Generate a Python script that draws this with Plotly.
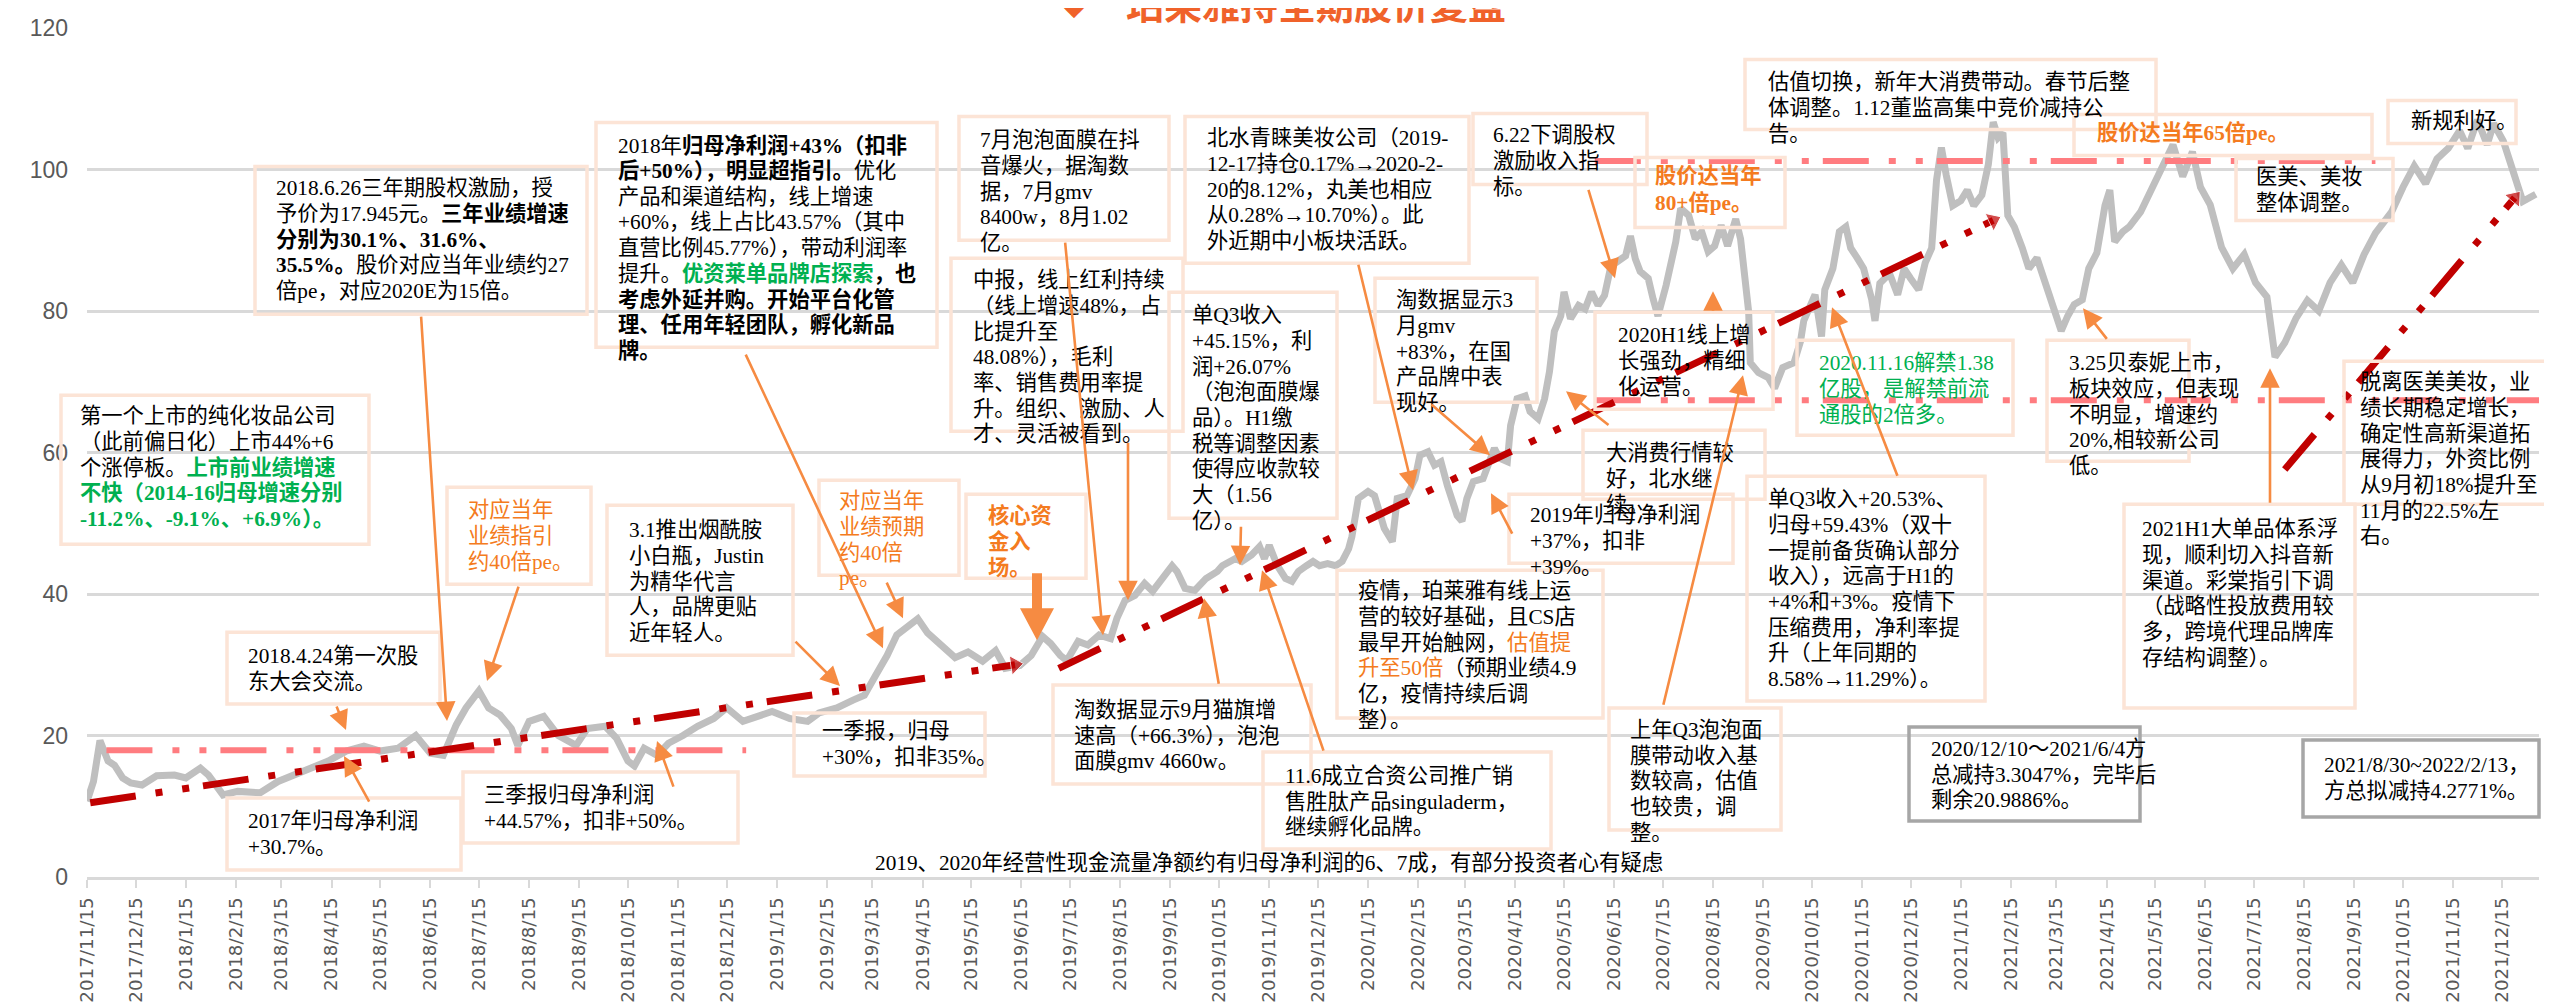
import plotly.graph_objects as go

# ---------------- data ----------------
price_dates = [
 "2017-11-15","2017-11-19","2017-11-23","2017-11-28","2017-12-02","2017-12-07","2017-12-12","2017-12-19","2017-12-28",
 "2018-01-08","2018-01-15","2018-01-24","2018-01-29","2018-02-07","2018-02-16","2018-03-02","2018-03-13","2018-03-30",
 "2018-04-13","2018-04-24","2018-05-05","2018-05-15","2018-05-26","2018-06-06","2018-06-15","2018-06-23","2018-07-01",
 "2018-07-07","2018-07-15","2018-07-21","2018-07-28","2018-08-04","2018-08-08","2018-08-15","2018-08-24","2018-09-02",
 "2018-09-13","2018-09-20","2018-10-01","2018-10-08","2018-10-15","2018-10-19","2018-10-25","2018-11-02","2018-11-09",
 "2018-11-18","2018-11-27","2018-12-07","2018-12-15","2018-12-25","2019-01-05","2019-01-12","2019-01-23","2019-02-03",
 "2019-02-10","2019-02-21","2019-03-03","2019-03-10","2019-03-17","2019-03-24","2019-03-30","2019-04-07","2019-04-12",
 "2019-04-18","2019-04-26","2019-05-05","2019-05-13","2019-05-22","2019-05-30","2019-06-05","2019-06-14","2019-06-21",
 "2019-06-28","2019-07-03","2019-07-09","2019-07-13","2019-07-20","2019-07-26","2019-08-02","2019-08-09","2019-08-13",
 "2019-08-18","2019-08-24","2019-08-30","2019-09-04","2019-09-11","2019-09-16","2019-09-19","2019-09-24","2019-09-30",
 "2019-10-07","2019-10-14","2019-10-17","2019-10-25","2019-10-29","2019-11-04","2019-11-09","2019-11-12","2019-11-15",
 "2019-11-20","2019-11-25","2019-11-29","2019-12-03","2019-12-08","2019-12-12","2019-12-16","2019-12-21","2019-12-26",
 "2019-12-30","2020-01-03","2020-01-05","2020-01-09","2020-01-15","2020-01-19","2020-01-25","2020-01-30","2020-02-02",
 "2020-02-08","2020-02-13","2020-02-16","2020-02-21","2020-02-25","2020-02-29","2020-03-04","2020-03-10","2020-03-13",
 "2020-03-16","2020-03-20","2020-03-26","2020-04-02","2020-04-05","2020-04-10","2020-04-12","2020-04-16","2020-04-21",
 "2020-04-24","2020-04-29","2020-05-03","2020-05-06","2020-05-09","2020-05-13","2020-05-15","2020-05-19","2020-05-24",
 "2020-05-28","2020-06-01","2020-06-05","2020-06-09","2020-06-13","2020-06-17","2020-06-22","2020-06-25","2020-06-28",
 "2020-07-01","2020-07-06","2020-07-09","2020-07-12","2020-07-17","2020-07-20","2020-07-23","2020-07-26","2020-07-31",
 "2020-08-04","2020-08-08","2020-08-12","2020-08-16","2020-08-20","2020-08-24","2020-08-29","2020-09-01","2020-09-06",
 "2020-09-07","2020-09-12","2020-09-18","2020-09-22","2020-09-27","2020-10-04","2020-10-08","2020-10-10","2020-10-17",
 "2020-10-21","2020-10-23","2020-10-28","2020-11-01","2020-11-05","2020-11-08","2020-11-12","2020-11-16","2020-11-21",
 "2020-11-23","2020-11-26","2020-12-02","2020-12-07","2020-12-11","2020-12-15","2020-12-20","2020-12-24","2020-12-28",
 "2020-12-31","2021-01-03","2021-01-06","2021-01-10","2021-01-15","2021-01-19","2021-01-23","2021-01-28","2021-02-01",
 "2021-02-04","2021-02-07","2021-02-10","2021-02-13","2021-02-17","2021-02-22","2021-02-26","2021-03-03","2021-03-07",
 "2021-03-11","2021-03-15","2021-03-18","2021-03-22","2021-03-26","2021-03-31","2021-04-04","2021-04-09","2021-04-14",
 "2021-04-17","2021-04-20","2021-04-25","2021-04-29","2021-05-06","2021-05-13","2021-05-20","2021-05-26","2021-06-01",
 "2021-06-07","2021-06-12","2021-06-18","2021-06-25","2021-07-02","2021-07-09","2021-07-16","2021-07-23","2021-07-28",
 "2021-08-03","2021-08-10","2021-08-17","2021-08-24","2021-08-31","2021-09-07","2021-09-14","2021-09-21","2021-09-28",
 "2021-10-08","2021-10-15","2021-10-22","2021-10-29","2021-11-05","2021-11-12","2021-11-19","2021-11-24","2021-11-30",
 "2021-12-06","2021-12-10","2021-12-16","2021-12-22","2021-12-28","2022-01-05"]
price_vals = [
 10.7,13.5,19.3,16.4,15.8,14.0,13.3,13.0,14.3,
 14.4,14.0,15.4,14.4,11.6,12.1,11.9,13.5,15.1,
 16.4,17.8,18.5,17.8,18.2,20.0,17.5,17.2,21.5,
 23.9,26.3,23.9,22.9,21.0,18.6,22.0,22.7,20.0,
 18.6,21.0,21.3,19.6,16.4,15.7,18.2,17.2,18.9,
 20.0,21.3,22.4,23.9,22.0,22.9,23.4,22.4,22.0,
 23.2,23.9,25.0,25.7,28.5,31.3,34.2,35.8,36.5,
 34.5,32.8,31.0,31.8,30.5,32.0,29.5,29.9,31.3,
 34.0,33.0,31.3,30.6,33.3,32.8,34.2,33.7,36.6,
 39.1,39.8,41.5,40.4,42.6,44.0,43.2,40.8,40.5,
 42.2,43.2,44.0,45.0,44.6,45.5,46.7,45.0,46.9,
 44.0,42.2,41.8,43.2,44.0,44.6,44.0,44.3,44.0,
 44.6,46.4,48.1,53.5,54.5,53.9,49.3,47.4,53.5,
 53.9,56.3,59.6,60.1,58.2,58.7,55.3,51.1,50.3,
 53.5,55.9,56.3,60.6,59.2,58.7,63.8,67.6,68.0,
 65.8,64.8,67.6,71.4,77.1,79.3,82.7,78.9,80.8,
 80.3,82.7,80.8,82.2,86.4,87.0,87.8,90.6,87.4,
 85.6,84.6,81.7,79.3,83.6,87.0,89.8,94.5,93.5,
 90.2,91.2,88.4,89.2,92.1,89.2,93.0,90.2,79.9,
 72.7,71.3,70.6,69.1,72.0,72.7,75.7,78.6,82.3,
 76.4,83.0,86.0,91.2,91.9,88.9,87.5,86.0,81.6,
 78.6,83.9,85.3,82.3,86.0,84.6,83.0,86.8,88.9,
 98.5,103.1,99.2,94.9,95.6,97.1,94.9,96.4,100.7,
 106.7,104.5,105.2,93.5,91.9,88.9,86.0,87.5,84.6,
 81.6,78.6,77.2,79.3,80.9,81.6,86.0,88.2,94.9,
 97.1,89.8,91.2,91.9,94.0,97.5,101.0,103.5,99.0,
 102.5,97.5,95.0,89.0,86.0,88.0,84.0,82.0,73.5,
 75.5,79.0,81.5,80.0,84.0,86.5,84.0,88.0,91.0,
 94.0,97.5,100.5,98.0,101.5,103.0,105.5,103.0,107.0,
 103.5,106.5,104.0,100.0,95.5,96.5]

trendA_dates = ["2017-11-17", "2019-06-11"]
trendA_vals = [10.5, 30.0]
trendB_dates = ["2019-07-08", "2021-02-04"]
trendB_vals = [29.5, 92.8]
trendC_dates = ["2021-08-03", "2021-12-23"]
trendC_vals = [57.6, 96.0]

pink1_dates = ["2017-11-27", "2018-12-27"]
pink1_vals = [17.9, 17.9]
pink2_dates = ["2020-06-03", "2021-09-28"]
pink2_vals = [101.2, 101.2]
pink3_dates = ["2020-06-03", "2022-01-07"]
pink3_vals = [67.4, 67.4]

tick_dates = []
tick_text = []
for y in range(2017, 2022):
    for m in range(1, 13):
        if (y == 2017 and m < 11):
            continue
        tick_dates.append(f"{y}-{m:02d}-15")
        tick_text.append(f"{y}/{m}/15")

title_text = "珀莱雅持全期股价复盘"
bottom_note = "2019、2020年经营性现金流量净额约有归母净利润的6、7成，有部分投资者心有疑虑"

# ---------------- layout geometry (pixels) ----------------
W, H = 2552, 1003
L, R, T, B = 79, 21, 19.5, 134
PW = W - L - R
PH = H - T - B


def px(x):
    return (x - L) / PW


def py(y):
    return (H - B - y) / PH


FONT = "Liberation Serif, Noto Sans CJK SC, serif"
FS = 21.3
STEP = 25.7
ORANGE_T = "#F47B20"
GREEN = "#00B050"
ARROW = "#F68B42"
BOXC = "#FCE4D6"


def g(s):
    return f"<span style='color:{GREEN}'><b>{s}</b></span>"


def o(s, bold=False):
    return f"<span style='color:{ORANGE_T}'>{'<b>' if bold else ''}{s}{'</b>' if bold else ''}</span>"


boxes = [
    # (left, top, right, bottom), text_x, first_line_y, lines, border
    ((53, 387, 361, 536), 70, 408, [
        "第一个上市的纯化妆品公司",
        "（此前偏日化）上市44%+6",
        "个涨停板。" + g("上市前业绩增速"),
        g("不快（2014-16归母增速分别"),
        g("-11.2%、-9.1%、+6.9%）。")], BOXC),
    ((247, 158, 579, 306), 266, 180, [
        "2018.6.26三年期股权激励，授",
        "予价为17.945元。<b>三年业绩增速</b>",
        "<b>分别为30.1%、31.6%、</b>",
        "<b>35.5%。</b>股价对应当年业绩约27",
        "倍pe，对应2020E为15倍。"], BOXC),
    ((588, 114, 929, 339), 608, 137, [
        "2018年<b>归母净利润+43%（扣非</b>",
        "<b>后+50%），明显超指引。</b>优化",
        "产品和渠道结构，线上增速",
        "+60%，线上占比43.57%（其中",
        "直营比例45.77%），带动利润率",
        "提升。" + g("优资莱单品牌店探索") + "<b>，也</b>",
        "<b>考虑外延并购。开始平台化管</b>",
        "<b>理、任用年轻团队，孵化新品</b>",
        "<b>牌。</b>"], BOXC),
    ((219, 624, 432, 696), 238, 648, ["2018.4.24第一次股", "东大会交流。"], BOXC),
    ((439, 479, 583, 576), 458, 502, [o("对应当年"), o("业绩指引"), o("约40倍pe。")], BOXC),
    ((219, 790, 453, 862), 238, 813, ["2017年归母净利润", "+30.7%。"], BOXC),
    ((455, 764, 730, 835), 474, 787, ["三季报归母净利润", "+44.57%，扣非+50%。"], BOXC),
    ((599, 497, 785, 647), 619, 522, ["3.1推出烟酰胺", "小白瓶，Justin", "为精华代言", "人，品牌更贴", "近年轻人。"], BOXC),
    ((811, 472, 951, 567), 829, 493, [o("对应当年"), o("业绩预期"), o("约40倍"), o("pe。")], BOXC),
    ((786, 705, 977, 768), 812, 723, ["一季报，归母", "+30%，扣非35%。"], BOXC),
    ((958, 486, 1078, 570), 978, 508, [o("核心资", True), o("金入", True), o("场。", True)], BOXC),
    ((951, 108, 1161, 232), 970, 132, ["7月泡泡面膜在抖", "音爆火，据淘数", "据，7月gmv", "8400w，8月1.02", "亿。"], BOXC),
    ((943, 250, 1175, 423), 963, 272, ["中报，线上红利持续", "（线上增速48%，占", "比提升至", "48.08%），毛利",
                                        "率、销售费用率提", "升。组织、激励、人", "才、灵活被看到。"], BOXC),
    ((1177, 108, 1461, 255), 1197, 130, ["北水青睐美妆公司（2019-", "12-17持仓0.17%→2020-2-", "20的8.12%，丸美也相应",
                                          "从0.28%→10.70%）。此", "外近期中小板块活跃。"], BOXC),
    ((1161, 284, 1329, 510), 1182, 307, ["单Q3收入", "+45.15%，利", "润+26.07%", "（泡泡面膜爆", "品）。H1缴",
                                          "税等调整因素", "使得应收款较", "大（1.56", "亿）。"], BOXC),
    ((1465, 105, 1639, 176), 1483, 127, ["6.22下调股权", "激励收入指", "标。"], BOXC),
    ((1627, 149, 1777, 219), 1645, 168, [o("股价达当年", True), o("80+倍pe。", True)], BOXC),
    ((1367, 270, 1529, 394), 1386, 292, ["淘数据显示3", "月gmv", "+83%，在国", "产品牌中表", "现好。"], BOXC),
    ((1329, 562, 1595, 710), 1348, 583, ["疫情，珀莱雅有线上运", "营的较好基础，且CS店", "最早开始触网，" + o("估值提"),
                                          o("升至50倍") + "（预期业绩4.9", "亿，疫情持续后调", "整）。"], BOXC),
    ((1045, 677, 1303, 776), 1064, 702, ["淘数据显示9月猫旗增", "速高（+66.3%），泡泡", "面膜gmv 4660w。"], BOXC),
    ((1255, 744, 1543, 841), 1275, 768, ["11.6成立合资公司推广销", "售胜肽产品singuladerm，", "继续孵化品牌。"], BOXC),
    ((1501, 486, 1725, 555), 1520, 507, ["2019年归母净利润", "+37%，扣非", "+39%。"], BOXC),
    ((1575, 422, 1757, 491), 1596, 445, ["大消费行情较", "好，北水继", "续。"], BOXC),
    ((1587, 304, 1765, 401), 1608, 327, ["2020H1线上增", "长强劲，精细", "化运营。"], BOXC),
    ((1789, 332, 2005, 427), 1809, 355, [f"<span style='color:{GREEN}'>2020.11.16解禁1.38</span>",
                                          f"<span style='color:{GREEN}'>亿股，是解禁前流</span>",
                                          f"<span style='color:{GREEN}'>通股的2倍多。</span>"], BOXC),
    ((1739, 468, 1977, 693), 1758, 491, ["单Q3收入+20.53%、", "归母+59.43%（双十", "一提前备货确认部分", "收入），远高于H1的",
                                          "+4%和+3%。疫情下", "压缩费用，净利率提", "升（上年同期的", "8.58%→11.29%）。"], BOXC),
    ((1601, 700, 1773, 822), 1620, 722, ["上年Q3泡泡面", "膜带动收入基", "数较高，估值", "也较贵，调", "整。"], BOXC),
    ((1737, 51, 2148, 121), 1758, 74, ["估值切换，新年大消费带动。春节后整", "体调整。1.12董监高集中竞价减持公", "告。"], BOXC),
    ((2066, 106, 2364, 147), 2087, 124, [o("股价达当年65倍pe。", True)], BOXC),
    ((2380, 92, 2508, 135), 2401, 113, ["新规利好。"], BOXC),
    ((2228, 150, 2385, 212), 2246, 169, ["医美、美妆", "整体调整。"], BOXC),
    ((2039, 332, 2181, 453), 2059, 355, ["3.25贝泰妮上市，", "板块效应，但表现", "不明显，增速约", "20%,相较新公司", "低。"], BOXC),
    ((2116, 496, 2347, 700), 2132, 521, ["2021H1大单品体系浮", "现，顺利切入抖音新", "渠道。彩棠指引下调", "（战略性投放费用较",
                                          "多，跨境代理品牌库", "存结构调整）。"], BOXC),
    ((2336, 353, 2539, 496), 2350, 374, ["脱离医美美妆，业", "绩长期稳定增长，", "确定性高新渠道拓", "展得力，外资比例",
                                          "从9月初18%提升至", "11月的22.5%左", "右。"], BOXC),
    ((1901, 719, 2132, 813), 1921, 741, ["2020/12/10～2021/6/4方", "总减持3.3047%，完毕后", "剩余20.9886%。"], "#A6A6A6"),
    ((2295, 732, 2531, 809), 2314, 757, ["2021/8/30~2022/2/13，", "方总拟减持4.2771%。"], "#A6A6A6"),
]

# arrows: (tail_x, tail_y, head_x, head_y) in pixels
arrows = [
    (413, 307, 439, 713), (737, 345, 875, 640), (328, 697, 338, 722), (511, 577, 479, 673),
    (362, 795, 336, 748), (666, 780, 649, 733), (786, 632, 832, 678), (878, 573, 895, 610),
    (1057, 233, 1095, 627), (1120, 433, 1120, 592), (1350, 255, 1405, 482), (1233, 517, 1232, 557),
    (1580, 180, 1607, 270), (1422, 395, 1482, 447), (1211, 677, 1196, 590), (1316, 744, 1254, 562),
    (1505, 527, 1483, 485), (1602, 418, 1558, 383), (1705, 304, 1705, 283), (1890, 469, 1824, 299),
    (1655, 698, 1735, 367), (2262, 496, 2262, 360), (2100, 332, 2075, 300),
]

# ---------------- figure ----------------
fig = go.Figure()
fig.add_trace(go.Scatter(x=price_dates, y=price_vals, mode="lines",
                         line=dict(color="#BFBFBF", width=7), hoverinfo="skip"))

DASH = "46px,20px,7px,20px,7px,14px"
for d, v in [(pink1_dates, pink1_vals), (pink2_dates, pink2_vals), (pink3_dates, pink3_vals)]:
    fig.add_trace(go.Scatter(x=d, y=v, mode="lines", line=dict(color="#FF7C80", width=6, dash=DASH), hoverinfo="skip"))

for d, v in [(trendA_dates, trendA_vals), (trendB_dates, trendB_vals), (trendC_dates, trendC_vals)]:
    fig.add_trace(go.Scatter(x=d, y=v, mode="lines+markers",
                             line=dict(color="#C00000", width=7, dash=DASH),
                             marker=dict(size=[0, 17], symbol="triangle-up", angleref="previous", color="#C00000"),
                             hoverinfo="skip"))

shapes = []
annotations = []
for (l, t, r, b), tx, y0, lines, bc in boxes:
    shapes.append(dict(type="rect", xref="paper", yref="paper", x0=px(l), x1=px(r), y0=py(b), y1=py(t),
                       line=dict(color=bc, width=3.5), fillcolor="rgba(0,0,0,0)", layer="above"))
    for i, s in enumerate(lines):
        annotations.append(dict(xref="paper", yref="paper", x=px(tx), y=py(y0 + i * STEP), xanchor="left",
                                yanchor="middle", text=s, showarrow=False, align="left",
                                font=dict(family=FONT, size=FS, color="#000000")))

for tx0, ty0, hx, hy in arrows:
    annotations.append(dict(xref="paper", yref="paper", x=px(hx), y=py(hy), ax=tx0 - hx, ay=ty0 - hy,
                            axref="pixel", ayref="pixel", text="", showarrow=True, arrowhead=2,
                            arrowsize=1.5, arrowwidth=2.6, arrowcolor=ARROW, standoff=0, startstandoff=0))

# block arrow for 核心资金入场
bx, btop, bhead, bhw, btip = 1029, 565, 600, 17, 632
pth = (f"M {px(bx-5)},{py(btop)} L {px(bx+5)},{py(btop)} L {px(bx+5)},{py(bhead)} L {px(bx+bhw)},{py(bhead)} "
       f"L {px(bx)},{py(btip)} L {px(bx-bhw)},{py(bhead)} L {px(bx-5)},{py(bhead)} Z")
shapes.append(dict(type="path", xref="paper", yref="paper", path=pth, fillcolor="#F68B42", line=dict(width=0)))

# title (partially outside top)
annotations.append(dict(xref="paper", yref="paper", x=px(1308), y=py(-6), xanchor="center", yanchor="middle",
                        text=f"<b>{title_text}</b>", showarrow=False,
                        font=dict(family="Noto Sans CJK SC", size=38, color="#F0622A")))
annotations.append(dict(xref="paper", yref="paper", x=px(1066), y=py(-3), xanchor="center", yanchor="middle",
                        text="◆", showarrow=False, font=dict(family="DejaVu Sans", size=26, color="#F0622A")))
annotations.append(dict(xref="paper", yref="paper", x=px(865), y=py(855), xanchor="left", yanchor="middle",
                        text=bottom_note, showarrow=False, font=dict(family=FONT, size=FS, color="#000000")))

fig.update_layout(
    width=W, height=H, margin=dict(l=L, r=R, t=T, b=B, autoexpand=False),
    paper_bgcolor="white", plot_bgcolor="white", showlegend=False,
    shapes=shapes, annotations=annotations,
    xaxis=dict(type="date", range=["2017-11-15", "2022-01-07"], tickvals=tick_dates, ticktext=tick_text,
               tickangle=-90, tickfont=dict(family="DejaVu Sans", size=18.3, color="#595959"),
               showgrid=False, showline=True, linecolor="#D9D9D9", linewidth=3,
               ticks="outside", ticklen=8, tickcolor="#D9D9D9", tickwidth=2, zeroline=False,
               automargin=False, ticklabelstandoff=2),
    yaxis=dict(range=[0, 120], dtick=20, tick0=0, showgrid=True, gridcolor="#D9D9D9", gridwidth=2.5,
               zeroline=False, showline=False, tickfont=dict(family="Liberation Sans", size=23, color="#595959"),
               automargin=False, ticklabelstandoff=18),
)

fig.write_html("out.html")
